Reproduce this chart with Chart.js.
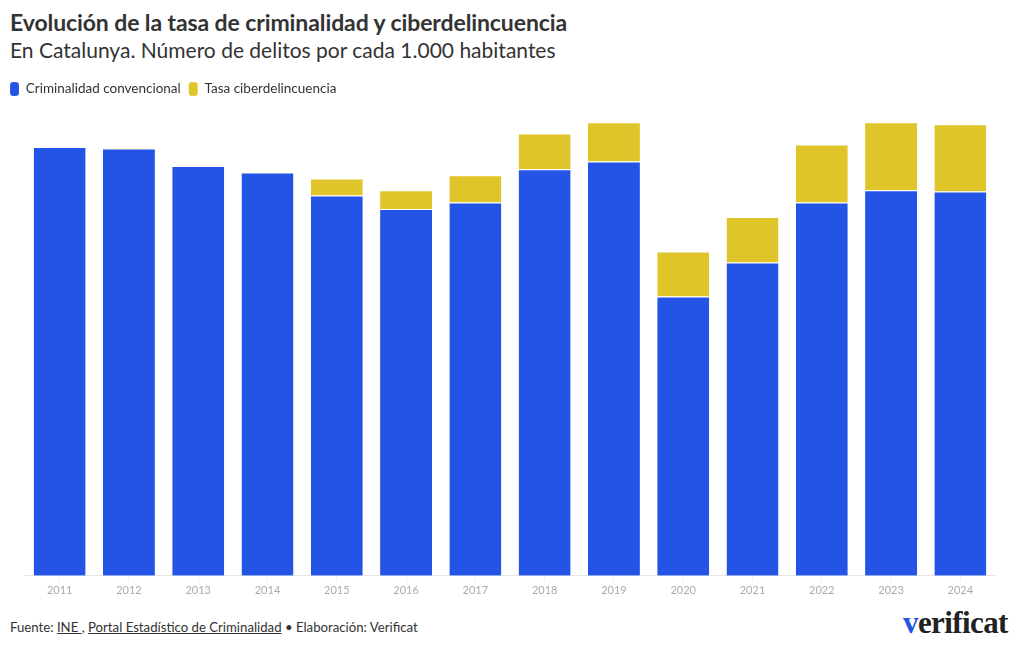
<!DOCTYPE html>
<html>
<head>
<meta charset="utf-8">
<script src="https://cdn.jsdelivr.net/npm/chart.js@4"></script>
<style>
  body { margin: 0; width: 1020px; height: 650px; background: #fff; font-family: Lato, "Noto Sans", sans-serif; color: #333; position: relative; overflow: hidden; }
  #title { position: absolute; left: 10px; top: 8px; font-size: 23px; font-weight: 700; color: #333; letter-spacing: -0.1px; }
  #subtitle { position: absolute; left: 10px; top: 37px; font-size: 21px; color: #333; }
  #chartBox { position: absolute; left: 0; top: 74px; width: 1020px; height: 525px; }
  #footer { position: absolute; left: 10px; top: 619px; font-size: 13.2px; color: #333; }
  #footer u { text-decoration: underline; }
  #logo { position: absolute; left: 903px; top: 605px; font-family: "Liberation Serif", serif; font-weight: 700; font-size: 31px; color: #222; letter-spacing: -0.6px; }
  #logo span { color: #2354e6; }
</style>
</head>
<body>
<div id="title">Evolución de la tasa de criminalidad y ciberdelincuencia</div>
<div id="subtitle">En Catalunya. Número de delitos por cada 1.000 habitantes</div>
<div id="chartBox"><canvas id="crimeChart"></canvas></div>
<div id="footer">Fuente: <u>INE </u>, <u>Portal Estadístico de Criminalidad</u> • Elaboración: Verificat</div>
<div id="logo"><span>v</span>erificat</div>

<script>
// Data (no y axis shown, values are estimates)
const years = ['2011', '2012', '2013', '2014', '2015', '2016', '2017', '2018', '2019', '2020', '2021', '2022', '2023', '2024'];
const conventional = [65.7, 65.5, 62.8, 61.8, 58.3, 56.2, 57.2, 62.3, 63.5, 42.8, 48.0, 57.2, 59.1, 58.9];
const cyber = [0.0, 0.1, 0.0, 0.1, 2.6, 2.9, 4.2, 5.5, 6.0, 6.9, 7.0, 8.9, 10.4, 10.3];

const ctx = document.getElementById('crimeChart').getContext('2d');
new Chart(ctx, {
  type: 'bar',
  data: {
    labels: years,
    datasets: [{
      label: 'Criminalidad convencional',
      data: conventional,
      backgroundColor: '#2354e6',
      borderColor: 'rgba(255,255,255,0.7)',
      borderWidth: { top: 1, left: 0, right: 0, bottom: 0 },
      borderSkipped: 'bottom',
      categoryPercentage: 0.75,
      barPercentage: 1
    }, {
      label: 'Tasa ciberdelincuencia',
      data: cyber,
      backgroundColor: '#e0c52a',
      borderColor: 'rgba(255,255,255,0.7)',
      borderWidth: { top: 1, left: 0, right: 0, bottom: 0 },
      borderSkipped: 'bottom',
      categoryPercentage: 0.75,
      barPercentage: 1
    }]
  },
  options: {
    responsive: true,
    maintainAspectRatio: false,
    animation: false,
    layout: { padding: { left: 2, right: 25, top: 0, bottom: 0 } },
    plugins: {
      legend: {
        position: 'top',
        align: 'start',
        labels: {
          font: { family: 'Lato', size: 13.5 },
          color: '#333',
          boxWidth: 9,
          boxHeight: 14,
          useBorderRadius: true,
          borderRadius: 3,
          padding: 8
        }
      },
      tooltip: { enabled: false }
    },
    scales: {
      x: {
        stacked: true,
        grid: { offset: false, drawOnChartArea: false, color: '#eeeeee', tickLength: 6 },
        border: { color: '#e6e6e6' },
        ticks: { color: '#aaa', font: { family: 'Lato', size: 11 }, padding: 2 }
      },
      y: {
        stacked: true,
        min: 0,
        max: 72,
        grid: { display: false },
        border: { display: false },
        ticks: { display: false },
        afterFit: scale => { scale.width = 23; }
      }
    }
  }
});
</script>
</body>
</html>
